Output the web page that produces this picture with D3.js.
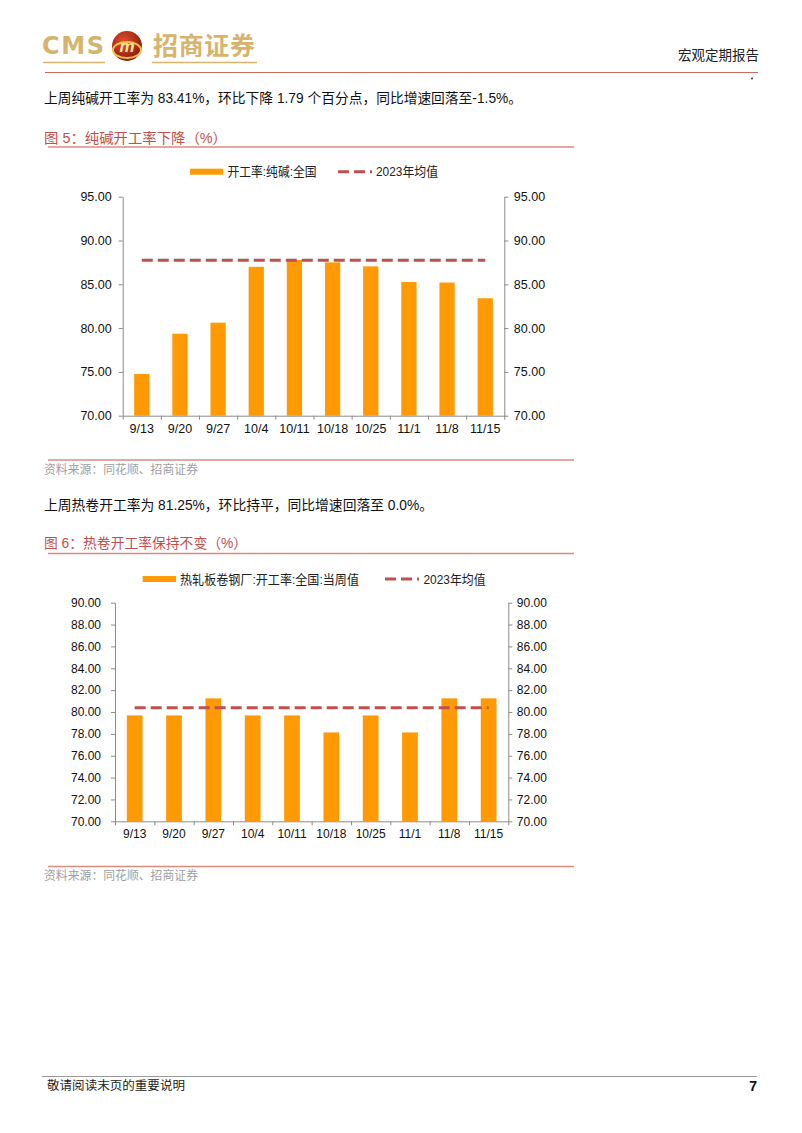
<!DOCTYPE html>
<html><head><meta charset="utf-8">
<script src="https://cdn.jsdelivr.net/npm/d3@7"></script>
<style>
html,body{margin:0;padding:0;background:#fff;}
svg{display:block;font-family:"Liberation Sans","Noto Sans CJK SC",sans-serif;}
</style></head>
<body>
<svg id="page" width="802" height="1133"></svg>
<script>
// ---------- data ----------
const categories = ["9/13","9/20","9/27","10/4","10/11","10/18","10/25","11/1","11/8","11/15"];
const sodaAshRate = [74.76, 79.36, 80.62, 87.00, 87.77, 87.50, 87.05, 85.26, 85.20, 83.41];
const sodaAshMean2023 = 87.75;
const sodaAshTicks = [70, 75, 80, 85, 90, 95];
const hotCoilRate = [79.69, 79.69, 81.25, 79.69, 79.69, 78.13, 79.69, 78.13, 81.25, 81.25];
const hotCoilMean2023 = 80.40;
const hotCoilTicks = [70, 72, 74, 76, 78, 80, 82, 84, 86, 88, 90];
const sodaAshLegend = ["开工率:纯碱:全国", "2023年均值"];
const hotCoilLegend = ["热轧板卷钢厂:开工率:全国:当周值", "2023年均值"];
const texts = {
  para1: "上周纯碱开工率为 83.41%，环比下降 1.79 个百分点，同比增速回落至-1.5%。",
  title1: "图 5：纯碱开工率下降（%）",
  para2: "上周热卷开工率为 81.25%，环比持平，同比增速回落至 0.0%。",
  title2: "图 6：热卷开工率保持不变（%）",
  source: "资料来源：同花顺、招商证券",
  footer: "敬请阅读末页的重要说明",
  page: "7",
  header: "宏观定期报告"
};

const BAR = "#FF9A05", MEAN = "#C0504D", AXIS = "#8C8C8C", TITLE = "#C0504D", RULE = "#D98C7E";
const svg = d3.select("#page");

// ---------- header ----------
const gold = "#D7B46E";
svg.append("text").attr("x", 42).attr("y", 54).attr("font-size", 24).attr("font-weight", "bold")
  .attr("font-family", "DejaVu Sans").attr("fill", gold).attr("textLength", 62).text("CMS");
const defs = svg.append("defs");
const rg = defs.append("radialGradient").attr("id", "lg").attr("cx", "40%").attr("cy", "35%").attr("r", "65%");
rg.append("stop").attr("offset", "0%").attr("stop-color", "#E0502A");
rg.append("stop").attr("offset", "100%").attr("stop-color", "#8E1A10");
svg.append("circle").attr("cx", 127).attr("cy", 46).attr("r", 15).attr("fill", "url(#lg)");
svg.append("ellipse").attr("cx", 127).attr("cy", 50).attr("rx", 14).attr("ry", 8).attr("fill", "none")
  .attr("stroke", "#F2C14E").attr("stroke-width", 2);
svg.append("text").attr("x", 127).attr("y", 52).attr("text-anchor", "middle").attr("font-size", 17)
  .attr("font-weight", "bold").attr("font-style", "italic").attr("fill", "#FBE6A0").text("m");
svg.append("text").attr("x", 153).attr("y", 55).attr("font-size", 25).attr("font-weight", "bold")
  .attr("font-family", "Noto Sans CJK SC").attr("fill", gold).attr("textLength", 102).text("招商证券");
svg.append("line").attr("x1", 43).attr("x2", 105).attr("y1", 62.5).attr("y2", 62.5).attr("stroke", gold).attr("stroke-width", 1.5);
svg.append("line").attr("x1", 152).attr("x2", 257).attr("y1", 62.5).attr("y2", 62.5).attr("stroke", gold).attr("stroke-width", 1.5);
svg.append("line").attr("x1", 45).attr("x2", 758).attr("y1", 72.5).attr("y2", 72.5).attr("stroke", "#C96B5E").attr("stroke-width", 1);
svg.append("text").attr("x", 759).attr("y", 60).attr("text-anchor", "end").attr("font-size", 13.5)
  .attr("font-family", "Noto Sans CJK SC").attr("fill", "#222").text(texts.header);
svg.append("circle").attr("cx", 752).attr("cy", 78.5).attr("r", 1).attr("fill", "#333");

// ---------- text helpers ----------
function para(txt, x, y, w) {
  svg.append("text").attr("x", x).attr("y", y).attr("font-size", 14).attr("fill", "#111")
    .attr("textLength", w).attr("lengthAdjust", "spacingAndGlyphs").text(txt);
}
function title(txt, x, y, w, ruleY) {
  svg.append("text").attr("x", x).attr("y", y).attr("font-size", 14).attr("fill", TITLE)
    .attr("textLength", w).attr("lengthAdjust", "spacingAndGlyphs").text(txt);
  svg.append("line").attr("x1", 48).attr("x2", 574).attr("y1", ruleY).attr("y2", ruleY)
    .attr("stroke", RULE).attr("stroke-width", 1.3);
}
function source(y, ruleY) {
  svg.append("line").attr("x1", 48).attr("x2", 574).attr("y1", ruleY).attr("y2", ruleY)
    .attr("stroke", RULE).attr("stroke-width", 1.3);
  svg.append("text").attr("x", 44).attr("y", y).attr("font-size", 12).attr("fill", "#A0A0A0")
    .attr("textLength", 154).attr("lengthAdjust", "spacingAndGlyphs").text(texts.source);
}

para(texts.para1, 44, 103, 478);
title(texts.title1, 44, 142.5, 183, 147);
source(473.5, 460);
para(texts.para2, 44, 510, 389);
title(texts.title2, 44, 548, 203, 553.5);
source(880, 866.5);

// ---------- chart ----------
function chart(cfg) {
  const g = svg.append("g");
  const x = d3.scaleBand().domain(categories).range([cfg.left, cfg.right]).paddingInner(0.6).paddingOuter(0.3);
  const xEdge = d3.scaleLinear().domain([0, categories.length]).range([cfg.left, cfg.right]);
  const y = d3.scaleLinear().domain([cfg.ticks[0], cfg.ticks[cfg.ticks.length - 1]]).range([cfg.bottom, cfg.top]);
  const fmt = d3.format(".2f");

  // bars
  g.selectAll("rect.bar").data(cfg.values).join("rect").attr("class", "bar")
    .attr("x", (d, i) => x(categories[i])).attr("width", x.bandwidth())
    .attr("y", d => y(d)).attr("height", d => y(cfg.ticks[0]) - y(d)).attr("fill", BAR);

  // mean line
  const mid = d => x(d) + x.bandwidth() / 2;
  g.append("path")
    .attr("d", d3.line()([[mid(categories[0]), y(cfg.mean)], [mid(categories[categories.length - 1]), y(cfg.mean)]]))
    .attr("stroke", MEAN).attr("stroke-width", 3).attr("stroke-dasharray", "11,5").attr("fill", "none");

  // axes
  const style = sel => {
    sel.selectAll("path,line").attr("stroke", AXIS).attr("stroke-width", 1);
    sel.selectAll("text").attr("fill", "#111").attr("font-size", cfg.fs)
      .attr("font-family", "Liberation Sans, Noto Sans CJK SC, sans-serif");
  };
  g.append("g").attr("transform", `translate(${cfg.left},0)`)
    .call(d3.axisLeft(y).tickValues(cfg.ticks).tickFormat(fmt).tickSize(4).tickSizeOuter(0).tickPadding(cfg.lpad))
    .call(style);
  g.append("g").attr("transform", `translate(${cfg.right},0)`)
    .call(d3.axisRight(y).tickValues(cfg.ticks).tickFormat(fmt).tickSize(4).tickSizeOuter(0).tickPadding(cfg.rpad))
    .call(style);
  g.append("g").attr("transform", `translate(0,${cfg.bottom})`)
    .call(d3.axisBottom(xEdge).tickValues(d3.range(categories.length + 1)).tickFormat("").tickSize(4).tickSizeOuter(0))
    .call(style);
  g.append("g").attr("transform", `translate(0,${cfg.bottom})`)
    .call(d3.axisBottom(x).tickSize(0).tickPadding(8))
    .call(sel => sel.select(".domain").remove())
    .call(style);

  // legend
  const L = cfg.legend;
  g.append("rect").attr("x", L.sx).attr("y", L.y - 3).attr("width", L.sw).attr("height", 6).attr("fill", BAR);
  g.append("text").attr("x", L.tx).attr("y", L.y + 4.5).attr("font-size", 13).attr("fill", "#222")
    .attr("textLength", L.tw).attr("lengthAdjust", "spacingAndGlyphs").text(cfg.labels[0]);
  g.append("line").attr("x1", L.dx).attr("x2", L.dx + 34).attr("y1", L.y).attr("y2", L.y)
    .attr("stroke", MEAN).attr("stroke-width", 3).attr("stroke-dasharray", "11,5");
  g.append("text").attr("x", L.mx).attr("y", L.y + 4.5).attr("font-size", 13).attr("fill", "#222")
    .attr("textLength", 62).attr("lengthAdjust", "spacingAndGlyphs").text(cfg.labels[1]);
}

chart({
  left: 122.7, right: 504.3, top: 196.7, bottom: 415.7, ticks: sodaAshTicks,
  values: sodaAshRate, mean: sodaAshMean2023, labels: sodaAshLegend, fs: 12.5, lpad: 7, rpad: 5.5,
  legend: { y: 171.7, sx: 190, sw: 33, tx: 227.5, tw: 89, dx: 338, mx: 376 }
});
chart({
  left: 115, right: 508.3, top: 602.7, bottom: 821.3, ticks: hotCoilTicks,
  values: hotCoilRate, mean: hotCoilMean2023, labels: hotCoilLegend, fs: 12, lpad: 10, rpad: 4.5,
  legend: { y: 579, sx: 142.7, sw: 33.3, tx: 180, tw: 179, dx: 385, mx: 423.5 }
});

// ---------- footer ----------
svg.append("line").attr("x1", 42).attr("x2", 757).attr("y1", 1076.5).attr("y2", 1076.5).attr("stroke", "#9A9A9A").attr("stroke-width", 1);
svg.append("text").attr("x", 47).attr("y", 1090).attr("font-size", 12).attr("fill", "#222")
  .attr("textLength", 138).attr("lengthAdjust", "spacingAndGlyphs").text(texts.footer);
svg.append("text").attr("x", 757).attr("y", 1091).attr("text-anchor", "end").attr("font-size", 14)
  .attr("font-weight", "bold").attr("fill", "#111").text(texts.page);
</script>
</body></html>
